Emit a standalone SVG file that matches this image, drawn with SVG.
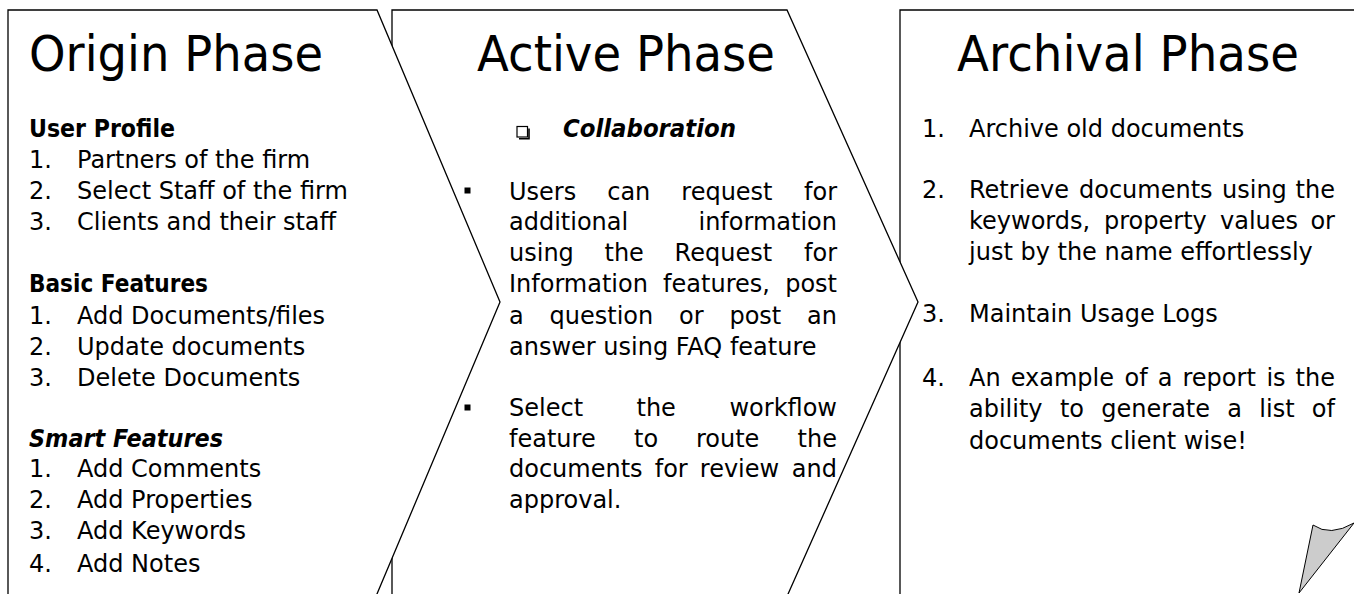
<svg xmlns="http://www.w3.org/2000/svg" width="1354" height="594" viewBox="0 0 1354 594">
<style>
.shape{fill:#fff;stroke:#000;stroke-width:1.3;stroke-linejoin:miter}
text{font-family:"DejaVu Sans","Liberation Sans",sans-serif;fill:#000}
.title{font-size:49px}
.b{font-size:24px}
.h{font-size:24px;font-weight:bold}
.hi{font-size:24px;font-weight:bold;font-style:italic}
.end{text-anchor:end}
.curl{fill:#cccccc;stroke:#000;stroke-width:1}
</style>
<rect x="0" y="0" width="1354" height="594" fill="#fff"/>

<g id="archival-phase">
<path class="shape" d="M1362,10 L900,10 L900,602 L1362,602"/>
<text class="title" x="957" y="71" textLength="342" lengthAdjust="spacingAndGlyphs">Archival Phase</text>
<text class="b" x="922" y="137">1.</text>
<text class="b" x="969" y="137">Archive old documents</text>
<text class="b" x="922" y="198">2.</text>
<text class="b" y="198"><tspan x="969">Retrieve </tspan><tspan x="1079">documents </tspan><tspan x="1222">using </tspan><tspan class="end" x="1335">the</tspan></text>
<text class="b" y="229"><tspan x="969">keywords, </tspan><tspan x="1104">property </tspan><tspan x="1220">values </tspan><tspan class="end" x="1335">or</tspan></text>
<text class="b" x="969" y="260">just by the name effortlessly</text>
<text class="b" x="922" y="322">3.</text>
<text class="b" x="969" y="322">Maintain Usage Logs</text>
<text class="b" x="922" y="386">4.</text>
<text class="b" y="386"><tspan x="969">An </tspan><tspan x="1010.7">example </tspan><tspan x="1124.5">of </tspan><tspan x="1157.7">a </tspan><tspan x="1182.5">report </tspan><tspan x="1266.4">is </tspan><tspan class="end" x="1335">the</tspan></text>
<text class="b" y="417"><tspan x="969">ability </tspan><tspan x="1059.9">to </tspan><tspan x="1101.3">generate </tspan><tspan x="1227.3">a </tspan><tspan x="1259.3">list </tspan><tspan class="end" x="1335">of</tspan></text>
<text class="b" x="969" y="449">documents client wise!</text>
<path class="curl" d="M1313,525 Q1330,537 1354,523 L1299,593 Z"/>
</g>

<g id="active-phase">
<path class="shape" d="M392,602 L392,10 L787,10 L918,302 L784.5,602"/>
<text class="title" x="477" y="71" textLength="298" lengthAdjust="spacingAndGlyphs">Active Phase</text>
<rect x="517" y="126.5" width="10.5" height="10.5" fill="#fff" stroke="#000" stroke-width="1.2"/>
<polyline points="519,138.8 529,138.8 529,128.5" fill="none" stroke="#000" stroke-width="1.6"/>
<text class="hi" x="563" y="137" textLength="173" lengthAdjust="spacingAndGlyphs">Collaboration</text>
<rect x="464.5" y="187.5" width="6" height="6" fill="#000"/>
<text class="b" y="200"><tspan x="509">Users </tspan><tspan x="607.2">can </tspan><tspan x="681.3">request </tspan><tspan class="end" x="837">for</tspan></text>
<text class="b" y="230"><tspan x="509">additional </tspan><tspan class="end" x="837">information</tspan></text>
<text class="b" y="261"><tspan x="509">using </tspan><tspan x="604.5">the </tspan><tspan x="674.6">Request </tspan><tspan class="end" x="837">for</tspan></text>
<text class="b" y="292"><tspan x="509">Information </tspan><tspan x="663.1">features, </tspan><tspan class="end" x="837">post</tspan></text>
<text class="b" y="324"><tspan x="509">a </tspan><tspan x="549.5">question </tspan><tspan x="679">or </tspan><tspan x="729.4">post </tspan><tspan class="end" x="837">an</tspan></text>
<text class="b" x="509" y="355">answer using FAQ feature</text>
<rect x="464.5" y="404.5" width="6" height="6" fill="#000"/>
<text class="b" y="416"><tspan x="509">Select </tspan><tspan x="636.5">the </tspan><tspan class="end" x="837">workflow</tspan></text>
<text class="b" y="447"><tspan x="509">feature </tspan><tspan x="634">to </tspan><tspan x="695.9">route </tspan><tspan class="end" x="837">the</tspan></text>
<text class="b" y="477"><tspan x="509">documents </tspan><tspan x="654.7">for </tspan><tspan x="699.8">review </tspan><tspan class="end" x="837">and</tspan></text>
<text class="b" x="509" y="508">approval.</text>
</g>

<g id="origin-phase">
<path class="shape" d="M8,602 L8,10 L377,10 L500,302 L373.6,602"/>
<text class="title" x="29" y="71" textLength="294" lengthAdjust="spacingAndGlyphs">Origin Phase</text>
<text class="h" x="29" y="137" textLength="146" lengthAdjust="spacingAndGlyphs">User Profile</text>
<text class="b" x="29" y="168">1.</text>
<text class="b" x="77" y="168">Partners of the firm</text>
<text class="b" x="29" y="199">2.</text>
<text class="b" x="77" y="199">Select Staff of the firm</text>
<text class="b" x="29" y="230">3.</text>
<text class="b" x="77" y="230">Clients and their staff</text>
<text class="h" x="29" y="292" textLength="179" lengthAdjust="spacingAndGlyphs">Basic Features</text>
<text class="b" x="29" y="324">1.</text>
<text class="b" x="77" y="324">Add Documents/files</text>
<text class="b" x="29" y="355">2.</text>
<text class="b" x="77" y="355">Update documents</text>
<text class="b" x="29" y="386">3.</text>
<text class="b" x="77" y="386">Delete Documents</text>
<text class="hi" x="29" y="447" textLength="194" lengthAdjust="spacingAndGlyphs">Smart Features</text>
<text class="b" x="29" y="477">1.</text>
<text class="b" x="77" y="477">Add Comments</text>
<text class="b" x="29" y="508">2.</text>
<text class="b" x="77" y="508">Add Properties</text>
<text class="b" x="29" y="539">3.</text>
<text class="b" x="77" y="539">Add Keywords</text>
<text class="b" x="29" y="572">4.</text>
<text class="b" x="77" y="572">Add Notes</text>
</g>

<g id="connectors"></g>
</svg>
